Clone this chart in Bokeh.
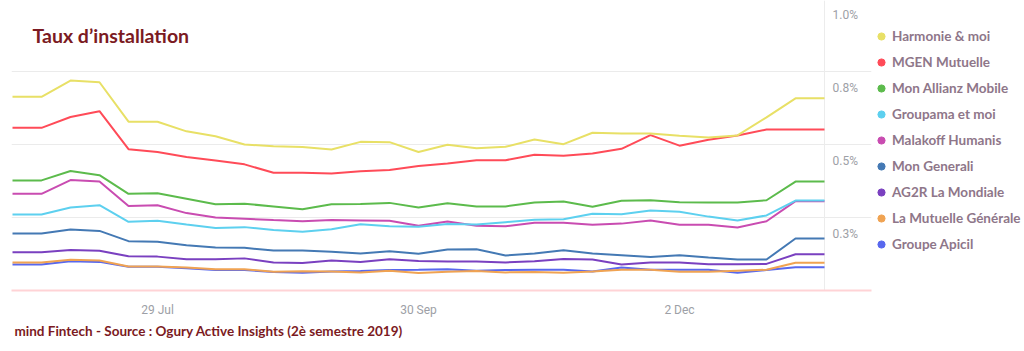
import pandas as pd
from bokeh.plotting import figure
from bokeh.models import (ColumnDataSource, Range1d, FixedTicker, DatetimeTickFormatter,
                          Span, Label, Title, Legend, LegendItem, Grid)
from bokeh.core.properties import value
from bokeh.embed import file_html
from bokeh.resources import INLINE

# ---------------- data ----------------
weeks = ["2019-06-24", "2019-07-01", "2019-07-08", "2019-07-15", "2019-07-22", "2019-07-29",
         "2019-08-05", "2019-08-12", "2019-08-19", "2019-08-26", "2019-09-02", "2019-09-09",
         "2019-09-16", "2019-09-23", "2019-09-30", "2019-10-07", "2019-10-14", "2019-10-21",
         "2019-10-28", "2019-11-04", "2019-11-11", "2019-11-18", "2019-11-25", "2019-12-02",
         "2019-12-09", "2019-12-16", "2019-12-23", "2019-12-30", "2020-01-06"]

harmonie = [0.663, 0.663, 0.719, 0.713, 0.578, 0.578, 0.545, 0.528, 0.500, 0.494, 0.491, 0.483,
            0.509, 0.508, 0.474, 0.499, 0.487, 0.492, 0.517, 0.501, 0.540, 0.538, 0.538, 0.530,
            0.524, 0.531, 0.593, 0.658, 0.658]
mgen = [0.557, 0.557, 0.594, 0.614, 0.484, 0.474, 0.457, 0.445, 0.432, 0.403, 0.403, 0.401,
        0.408, 0.413, 0.426, 0.435, 0.446, 0.446, 0.465, 0.461, 0.469, 0.485, 0.532, 0.496,
        0.516, 0.531, 0.551, 0.551, 0.551]
allianz = [0.377, 0.377, 0.409, 0.395, 0.331, 0.333, 0.314, 0.295, 0.297, 0.288, 0.278, 0.295,
           0.296, 0.300, 0.284, 0.299, 0.288, 0.288, 0.301, 0.305, 0.287, 0.307, 0.309, 0.302,
           0.301, 0.301, 0.309, 0.373, 0.373]
groupama = [0.260, 0.260, 0.284, 0.292, 0.235, 0.239, 0.226, 0.214, 0.217, 0.207, 0.201, 0.210,
            0.227, 0.220, 0.218, 0.228, 0.226, 0.234, 0.242, 0.244, 0.263, 0.261, 0.274, 0.270,
            0.253, 0.240, 0.257, 0.308, 0.308]
malakoff = [0.331, 0.331, 0.378, 0.373, 0.289, 0.292, 0.265, 0.250, 0.246, 0.241, 0.237, 0.241,
            0.240, 0.239, 0.222, 0.236, 0.222, 0.220, 0.232, 0.232, 0.225, 0.229, 0.240, 0.225,
            0.225, 0.216, 0.237, 0.306, 0.306]
generali = [0.195, 0.195, 0.209, 0.204, 0.169, 0.167, 0.155, 0.147, 0.146, 0.137, 0.137, 0.133,
            0.127, 0.134, 0.126, 0.140, 0.141, 0.120, 0.127, 0.138, 0.127, 0.121, 0.115, 0.121,
            0.113, 0.106, 0.106, 0.178, 0.178]
ag2r = [0.131, 0.131, 0.139, 0.136, 0.117, 0.116, 0.107, 0.107, 0.110, 0.096, 0.094, 0.103,
        0.098, 0.107, 0.101, 0.099, 0.099, 0.096, 0.100, 0.108, 0.106, 0.089, 0.096, 0.096,
        0.090, 0.090, 0.091, 0.124, 0.124]
mutuelle_generale = [0.096, 0.096, 0.105, 0.103, 0.082, 0.082, 0.079, 0.073, 0.073, 0.064, 0.066,
                     0.065, 0.062, 0.068, 0.060, 0.064, 0.067, 0.062, 0.063, 0.061, 0.065, 0.071,
                     0.071, 0.064, 0.064, 0.068, 0.071, 0.095, 0.095]
apicil = [0.089, 0.089, 0.100, 0.098, 0.081, 0.081, 0.076, 0.070, 0.070, 0.063, 0.061, 0.065,
          0.067, 0.070, 0.071, 0.073, 0.068, 0.070, 0.071, 0.071, 0.065, 0.079, 0.071, 0.071,
          0.071, 0.061, 0.070, 0.080, 0.080]

series_names = ["Harmonie & moi", "MGEN Mutuelle", "Mon Allianz Mobile", "Groupama et moi",
                "Malakoff Humanis", "Mon Generali", "AG2R La Mondiale",
                "La Mutuelle Générale", "Groupe Apicil"]
series_values = [harmonie, mgen, allianz, groupama, malakoff, generali, ag2r,
                 mutuelle_generale, apicil]
series_colors = ["#e8e066", "#ff4b58", "#5cbb4c", "#5dd0ef", "#c94cb1", "#4479b4", "#7a40c0",
                 "#f0a352", "#5868ee"]

x_tick_dates = ["2019-07-29", "2019-09-30", "2019-12-02"]
y_ticks = [0.25, 0.5, 0.75, 1.0]
y_tick_labels = ["0.3%", "0.5%", "0.8%", "1.0%"]

title_text = "Taux d’installation"
footer_text = "mind Fintech - Source : Ogury Active Insights (2è semestre 2019)"

# ---------------- figure ----------------
dates = pd.to_datetime(weeks)
week = pd.Timedelta(days=7)
x_start = dates[0] - week / 29
x_end = dates[0] + week * (859 / 29)

p = figure(frame_width=860, frame_height=290, x_axis_type="datetime",
           x_range=Range1d(x_start, x_end), y_range=Range1d(0, 0.993),
           output_backend="svg", toolbar_location=None, y_axis_location=None,
           min_border_left=11, min_border_top=0, min_border_right=0, min_border_bottom=0,
           background_fill_color="white", border_fill_color="white")
p.outline_line_color = None
p.xgrid.visible = False
p.ygrid.visible = False
p.add_layout(Grid(dimension=1, ticker=FixedTicker(ticks=y_ticks),
                  grid_line_color="#ebebeb", grid_line_width=1))

# right vertical border of the data zone
p.add_layout(Span(location=dates[-1], dimension="height", line_color="#ececec",
                  line_width=1, level="underlay"))

# lines (reverse so the first series is on top)
for name, vals, col in reversed(list(zip(series_names, series_values, series_colors))):
    src = ColumnDataSource(dict(x=dates, y=vals))
    p.line("x", "y", source=src, line_color=col, line_width=2)

# legend (dots): zero-size markers on the series, used only for the legend swatches
items = []
for name, vals, col in zip(series_names, series_values, series_colors):
    src = ColumnDataSource(dict(x=dates, y=vals))
    r = p.scatter("x", "y", source=src, marker="circle", fill_color=col, line_color=col, size=0)
    items.append(LegendItem(label=name, renderers=[r]))
legend = Legend(items=items, location=(1, 37.5), margin=0, padding=0, spacing=8,
                glyph_width=18, glyph_height=18, label_height=18, label_standoff=2,
                label_text_font="Lato", label_text_font_style="bold",
                label_text_font_size="13.5px", label_text_color="#8e7689",
                border_line_color=None, background_fill_alpha=0)
p.add_layout(legend, "right")

# y tick labels (below each grid line, right of the data)
ysrc = ColumnDataSource(dict(x=[dates[-1]] * len(y_ticks), y=y_ticks, t=y_tick_labels))
p.text("x", "y", text="t", source=ysrc, x_offset=8, y_offset=17,
       text_align="left", text_baseline="middle", text_font=value("Roboto"),
       text_font_size="12px", text_color="#9da0a6")

# x axis
p.xaxis.ticker = FixedTicker(ticks=[pd.Timestamp(d).value // 10**6 for d in x_tick_dates])
p.xaxis.formatter = DatetimeTickFormatter(days="%-d %b", months="%-d %b", years="%-d %b")
p.xaxis.major_tick_line_color = None
p.xaxis.minor_tick_line_color = None
p.xaxis.axis_line_color = "#ffd3d6"
p.xaxis.axis_line_width = 2
p.xaxis.major_label_standoff = 6
p.xaxis.major_label_text_font = "Roboto"
p.xaxis.major_label_text_font_size = "12px"
p.xaxis.major_label_text_color = "#9da0a6"

# title inside the chart area
p.add_layout(Label(x=21, y=255, x_units="screen", y_units="screen", text=title_text,
                   text_font="Lato", text_font_style="bold", text_font_size="19.5px",
                   text_color="#7b1a22", text_baseline="middle"))

# footer
p.add_layout(Title(text=footer_text, align="left", offset=3, standoff=3,
                   text_font="Lato", text_font_style="bold", text_font_size="13.5px",
                   text_color="#7b1a22"), "below")

open("out.html", "w").write(file_html(p, INLINE))
